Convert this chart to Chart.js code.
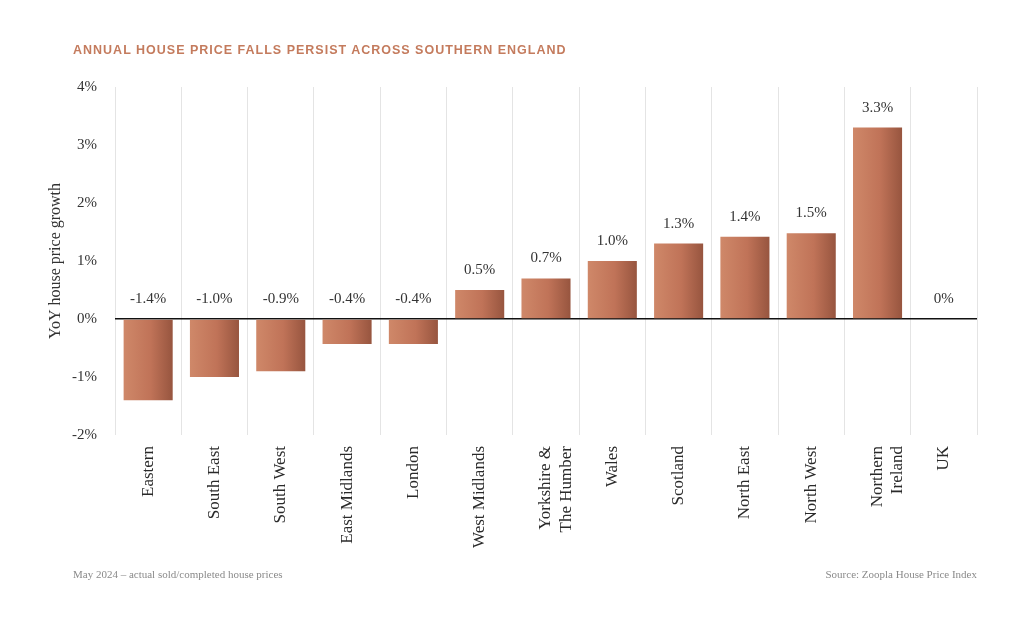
<!DOCTYPE html>
<html lang="en">
<head>
    <meta charset="UTF-8">
    <title>Annual house price falls persist across southern England</title>
    <script src="https://cdn.jsdelivr.net/npm/chart.js"></script>
    <style>
        html, body {
            margin: 0;
            padding: 0;
            background: #fff;
        }

        #wrap {
            position: relative;
            width: 1024px;
            height: 644px;
        }

        #title {
            position: absolute;
            left: 73px;
            top: 43px;
            font-family: "Liberation Sans", Arial, sans-serif;
            font-weight: bold;
            font-size: 12.5px;
            letter-spacing: 1px;
            color: #c47b5d;
        }

        .foot {
            position: absolute;
            top: 568px;
            font-family: "Liberation Serif", serif;
            font-size: 11px;
            color: #8a8a8a;
        }
    </style>
</head>
<body>
    <div id="wrap">
        <canvas id="chart" width="1024" height="644"></canvas>
        <div id="title">ANNUAL HOUSE PRICE FALLS PERSIST ACROSS SOUTHERN ENGLAND</div>
        <div class="foot" style="left:73px">May 2024 – actual sold/completed house prices</div>
        <div class="foot" style="right:47px">Source: Zoopla House Price Index</div>
    </div>

    <script>
        const regions = [
            'Eastern', 'South East', 'South West', 'East Midlands', 'London', 'West Midlands',
            ['Yorkshire &', 'The Humber'], 'Wales', 'Scotland', 'North East', 'North West',
            ['Northern', 'Ireland'], 'UK'
        ];
        const growth = [-1.4, -1.0, -0.9, -0.43, -0.43, 0.5, 0.7, 1.0, 1.3, 1.42, 1.48, 3.3, 0];
        const yTicks = [-2, -1, 0, 1, 2, 3, 4];

        const BAR_PCT = 0.74;
        const serif = '"Liberation Serif", "Times New Roman", serif';

        function barGradient(ctx) {
            const chart = ctx.chart;
            const x = chart.scales.x;
            if (!x || !chart.chartArea) return '#c0735a';
            const step = x.width / regions.length;
            const cx = x.getPixelForValue(ctx.dataIndex);
            const half = step * BAR_PCT / 2;
            const g = chart.ctx.createLinearGradient(cx - half, 0, cx + half, 0);
            g.addColorStop(0, '#cf8869');
            g.addColorStop(0.55, '#c07358');
            g.addColorStop(1, '#97553f');
            return g;
        }

        const valueLabels = {
            id: 'valueLabels',
            afterDatasetsDraw(chart) {
                const c = chart.ctx;
                const zeroY = chart.scales.y.getPixelForValue(0);
                const meta = chart.getDatasetMeta(0);
                c.save();
                c.font = '15px ' + serif;
                c.fillStyle = '#333';
                c.textAlign = 'center';
                c.textBaseline = 'middle';
                meta.data.forEach((bar, i) => {
                    const v = growth[i];
                    const txt = v === 0 ? '0%' : v.toFixed(1) + '%';
                    const top = Math.min(bar.y, zeroY);
                    c.fillText(txt, bar.x, top - 20);
                });
                c.restore();
            }
        };

        new Chart(document.getElementById('chart'), {
            type: 'bar',
            data: {
                labels: regions,
                datasets: [{
                    data: growth,
                    backgroundColor: barGradient,
                    borderWidth: 0,
                    barPercentage: BAR_PCT,
                    categoryPercentage: 1
                }]
            },
            options: {
                responsive: false,
                animation: false,
                layout: {
                    padding: { left: 38, right: 47, top: 87, bottom: 79 }
                },
                plugins: {
                    legend: { display: false },
                    tooltip: { enabled: false }
                },
                scales: {
                    x: {
                        grid: {
                            offset: true,
                            color: '#e4e4e4',
                            lineWidth: 1,
                            drawTicks: false
                        },
                        border: { display: false },
                        ticks: {
                            minRotation: 90,
                            maxRotation: 90,
                            padding: 11,
                            color: '#2a2a2a',
                            font: { family: serif, size: 17 }
                        },
                        afterFit(scale) { scale.height = 130; }
                    },
                    y: {
                        min: -2,
                        max: 4,
                        afterBuildTicks(scale) {
                            scale.ticks = yTicks.map(v => ({ value: v }));
                        },
                        grid: {
                            drawTicks: false,
                            color: c => c.tick && c.tick.value === 0 ? '#111' : 'rgba(0,0,0,0)',
                            lineWidth: c => c.tick && c.tick.value === 0 ? 1.5 : 0
                        },
                        border: { display: false },
                        ticks: {
                            padding: 18,
                            color: '#333',
                            font: { family: serif, size: 15 },
                            callback: v => v + '%'
                        },
                        title: {
                            display: true,
                            text: 'YoY house price growth',
                            color: '#333',
                            padding: { top: 8, bottom: 0 },
                            font: { family: serif, size: 16 }
                        },
                        afterFit(scale) { scale.width = 77; }
                    }
                }
            },
            plugins: [valueLabels]
        });
    </script>
</body>
</html>
